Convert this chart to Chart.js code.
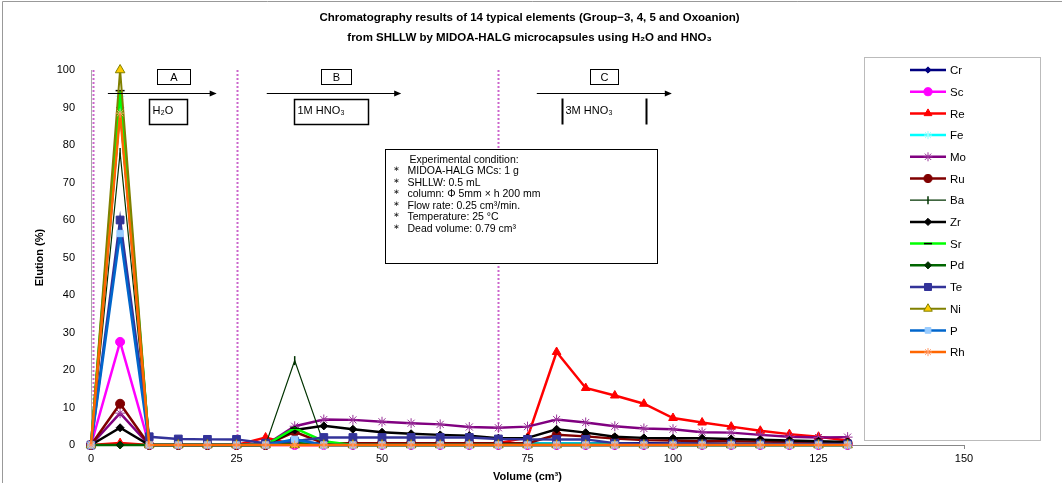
<!DOCTYPE html>
<html><head><meta charset="utf-8">
<script src="https://cdn.jsdelivr.net/npm/chart.js@4/dist/chart.umd.min.js"></script>
<style>
html,body{margin:0;padding:0;background:#fff;}
#wrap{position:relative;width:1062px;height:483px;}
canvas{display:block;}
</style></head>
<body><div id="wrap"><canvas id="c" width="1062" height="483"></canvas></div>
<script>
// ---- data ----
const volumes = [0,5,10,15,20,25,30,35,40,45,50,55,60,65,70,75,80,85,90,95,100,105,110,115,120,125,130];
const elements = ['Cr','Sc','Re','Fe','Mo','Ru','Ba','Zr','Sr','Pd','Te','Ni','P','Rh'];
const cr = [0,90,0,0,0,0,0,1,0.3,0.3,0.3,0.3,0.3,0.3,0.5,0.5,0.5,0.5,0.5,0.5,0.4,0.4,0.3,0.3,0.3,0.3,0.3];
const sc = [0,27.5,0,0,0,0,0,0,0,0,0,0,0,0,0,0,0,0,0,0,0,0,0,0,0,0,0];
const re = [0,0.5,0,0,0,0,2,0,0,0,0,0,0,0,0.5,2,24.8,15.2,13.2,11,7.2,6,4.9,3.8,2.9,2.2,1.2];
const fe = [0,93,0,0,0,0,0,1,0,0,0,0,0,0,0.3,0.4,0.4,0.4,0.3,0.2,0,0,0,0,0,0,0];
const mo = [0,8.5,0,0,0,0,0,5,6.8,6.7,6.2,5.8,5.5,4.8,4.6,4.9,6.8,6,5,4.4,4.2,3.4,3.3,2.7,2.2,2,2.1];
const ru = [0,11,0,0,0,0,0,3.5,0.5,0.5,0.5,0.5,0.5,0.5,0.5,0.5,2.7,2.3,1.7,1.3,1.2,1,1,0.9,0.8,0.6,0.5];
const ba = [0,78,0,0,0,0,0,22.5,0.3,0,0,0,0,0,0,0,0,0,0,0,0,0,0,0,0,0,0];
const zr = [0,4.6,0,0,0,0,0,4,5.1,4.2,3.4,3,2.7,2.5,1.8,1.9,4.2,3.3,2.2,1.9,1.8,1.8,1.6,1.4,1.2,1,0.8];
const sr = [0,94.5,0,0,0,0,0,4.5,1,0,0,0,0,0,0,0,0,0,0,0,0,0,0,0,0,0,0];
const pd = [0,0,0,0,0,0,0,0.5,0,0,0,0,0,0,0,0,0,0,0,0,0,0,0,0,0,0,0];
const te = [0,60,2.2,1.6,1.5,1.5,0.5,1,2,2,2,2,2,2,1.6,1.5,1.5,1.5,0.5,0.3,0.3,0.3,0.3,0.3,0.3,0.3,0.3];
const ni = [0,100,0,0,0,0,0,0,0,0,0,0,0,0,0,0,0,0,0,0,0,0,0,0,0,0,0];
const p  = [0,56.4,0,0,0,0,0,1.5,0,0,0,0,0,0,0,0,0,0,0,0,0,0,0,0,0,0,0];
const rh = [0,88.5,0,0,0,0,0,0,0,0,0,0,0,0,0,0,0,0,0,0,0,0,0,0,0,0,0];
const seriesValues = [cr,sc,re,fe,mo,ru,ba,zr,sr,pd,te,ni,p,rh];
const xTicks = [0,25,50,75,100,125,150];
const yTicks = [0,10,20,30,40,50,60,70,80,90,100];
const dividerVolumes = [0.4,25,70];

// ---- styles ----
const styles = [
 {c:'#000080', w:2.5, ps:'rectRot', r:3.5, f:'#000080', b:'#000080'},
 {c:'#FF00FF', w:2.5, ps:'circle', r:4.5, f:'#FF00FF', b:'#FF00FF'},
 {c:'#FF0000', w:2.5, ps:'triangle', r:5, f:'#FF0000', b:'#FF0000'},
 {c:'#00FFFF', w:2.5, ps:'star', r:4.5, f:'#CCFFFF', b:'#99FFFF'},
 {c:'#800080', w:2.5, ps:'star', r:5, f:'#993399', b:'#993399'},
 {c:'#800000', w:2.5, ps:'circle', r:4.5, f:'#800000', b:'#800000'},
 {c:'#003300', w:1.2, ps:'line', r:4.5, f:'#003300', b:'#003300', rot:90},
 {c:'#000000', w:2.5, ps:'rectRot', r:4, f:'#000000', b:'#000000'},
 {c:'#00FF00', w:2.5, ps:'line', r:4.5, f:'#000000', b:'#000000'},
 {c:'#006600', w:2.5, ps:'rectRot', r:4, f:'#003300', b:'#003300'},
 {c:'#333399', w:2.5, ps:'rect', r:5.5, f:'#333399', b:'#333399'},
 {c:'#808000', w:2, ps:'triangle', r:5.5, f:'#FFCC00', b:'#808000'},
 {c:'#0066CC', w:2.5, ps:'rect', r:4.5, f:'#99CCFF', b:'#99CCFF'},
 {c:'#FF6600', w:2.5, ps:'star', r:4.5, f:'#FF9966', b:'#FF9966'}
];

const N = elements.length;
const datasets = elements.map((name,i)=>{
  const s = styles[i];
  return {
    label:name,
    data: volumes.map((v,k)=>({x:v,y:seriesValues[i][k]})),
    borderColor:s.c, backgroundColor:s.f, borderWidth:s.w,
    pointStyle:s.ps, pointRadius:s.r, pointRotation:s.rot||0,
    pointBackgroundColor:s.f, pointBorderColor:s.b, pointBorderWidth: (s.ps==='line')?1.5:1,
    tension:0, clip:false, order:N-1-i
  };
});

const FONT = '"Liberation Sans", Arial, sans-serif';

const decor = {
  id:'decor',
  beforeDatasetsDraw(chart){
    const ctx = chart.ctx, xs = chart.scales.x, ys = chart.scales.y;
    ctx.save();
    ctx.strokeStyle = '#CC66CC'; ctx.lineWidth = 2; ctx.setLineDash([2,2]);
    dividerVolumes.forEach(v=>{
      const px = Math.round(xs.getPixelForValue(v))+0.5;
      ctx.beginPath(); ctx.moveTo(px, ys.getPixelForValue(100)); ctx.lineTo(px, ys.getPixelForValue(0)); ctx.stroke();
    });
    ctx.restore();
  },
  afterDraw(chart){
    const ctx = chart.ctx, xs = chart.scales.x, ys = chart.scales.y;
    const X = v=>xs.getPixelForValue(v), Y = v=>ys.getPixelForValue(v);
    ctx.save();
    // chart outer border
    ctx.strokeStyle='#999'; ctx.lineWidth=1;
    ctx.beginPath(); ctx.moveTo(2.5,483); ctx.lineTo(2.5,1.5); ctx.lineTo(1062,1.5); ctx.stroke();
    // title
    ctx.fillStyle='#000'; ctx.textAlign='center'; ctx.textBaseline='middle';
    ctx.font = 'bold 11.5px '+FONT;
    const cx = (chart.chartArea.left+chart.chartArea.right)/2;
    ctx.fillText('Chromatography results of 14 typical elements (Group\u22123, 4, 5 and Oxoanion)', cx+2, 18);
    ctx.fillText('from SHLLW by MIDOA-HALG microcapsules using H\u2082O and HNO\u2083', cx+2, 38);
    // axis titles
    ctx.font = 'bold 11px '+FONT;
    ctx.fillText('Volume (cm\u00B3)', cx, 477);
    ctx.save(); ctx.translate(40,(chart.chartArea.top+chart.chartArea.bottom)/2); ctx.rotate(-Math.PI/2);
    ctx.fillText('Elution (%)',0,0); ctx.restore();
    // boxes
    ctx.font = '11px '+FONT; ctx.lineWidth=1; ctx.strokeStyle='#000';
    const box = (x1,x2,y1,y2,txt)=>{
      const a=Math.round(X(x1))+0.5,b=Math.round(X(x2))+0.5,c=Math.round(Y(y1))+0.5,d=Math.round(Y(y2))+0.5;
      ctx.strokeRect(a,c,b-a,d-c);
      ctx.fillText(txt,(a+b)/2,(c+d)/2+1);
    };
    box(11.3,17.0,100.4,96.3,'A');
    box(39.6,44.7,100.4,96.3,'B');
    box(85.7,90.5,100.4,96.3,'C');
    ctx.textAlign='left';
    const box2 = (x1,x2,y1,y2,txt,sidesOnly)=>{
      const a=Math.round(X(x1))+0.5,b=Math.round(X(x2))+0.5,c=Math.round(Y(y1))+0.5,d=Math.round(Y(y2))+0.5;
      if(sidesOnly){ ctx.lineWidth=2; ctx.beginPath(); ctx.moveTo(a,c);ctx.lineTo(a,d);ctx.moveTo(b,c);ctx.lineTo(b,d);ctx.stroke(); ctx.lineWidth=1; }
      else { ctx.lineWidth=1.5; ctx.strokeRect(a,c,b-a,d-c); ctx.lineWidth=1; }
      ctx.fillText(txt,a+3,(c+d)/2-1);
    };
    box2(9.9,16.5,92.3,85.6,'H\u2082O');
    box2(34.9,47.6,92.3,85.6,'1M HNO\u2083');
    box2(80.9,95.4,92.6,85.6,'3M HNO\u2083',true);
    // arrows
    const arrow=(x1,x2,yv)=>{
      const a=X(x1),b=X(x2),y=Math.round(Y(yv))+0.5;
      ctx.beginPath(); ctx.moveTo(a,y); ctx.lineTo(b-5,y); ctx.stroke();
      ctx.beginPath(); ctx.moveTo(b,y); ctx.lineTo(b-7,y-3); ctx.lineTo(b-7,y+3); ctx.closePath(); ctx.fill();
    };
    arrow(2.9,21.6,93.8); arrow(30.2,53.3,93.8); arrow(76.6,99.8,93.8);
    // experimental condition box
    const ex1=X(50.6), ex2=X(97.4), ey1=Y(79), ey2=Y(48.5);
    ctx.fillStyle='#fff'; ctx.fillRect(ex1,ey1,ex2-ex1,ey2-ey1);
    ctx.strokeStyle='#000'; ctx.lineWidth=1; ctx.strokeRect(Math.round(ex1)+0.5,Math.round(ey1)+0.5,Math.round(ex2-ex1),Math.round(ey2-ey1));
    ctx.fillStyle='#000'; ctx.font='10.5px '+FONT;
    ctx.fillText('Experimental condition:', ex1+24, ey1+11);
    const lines=['MIDOA-HALG MCs: 1 g','SHLLW: 0.5 mL','column: \u03A6 5mm \u00D7 h 200 mm','Flow rate: 0.25 cm\u00B3/min.','Temperature: 25 \u00B0C','Dead volume: 0.79 cm\u00B3'];
    lines.forEach((t,i)=>{
      const yy=ey1+22.5+i*11.5;
      ctx.fillText('\uFF0A', ex1+6, yy);
      ctx.fillText(t, ex1+22, yy);
    });
    // legend
    const lx1=864, lx2=1040, ly1=57, ly2=440;
    ctx.fillStyle='#fff'; ctx.fillRect(lx1,ly1,lx2-lx1,ly2-ly1);
    ctx.strokeStyle='#bbb'; ctx.lineWidth=1; ctx.strokeRect(lx1+0.5,ly1+0.5,lx2-lx1,ly2-ly1);
    ctx.font='11.5px '+FONT;
    chart.data.datasets.forEach((ds,i)=>{
      const y = 70 + i*21.7;
      ctx.strokeStyle=ds.borderColor; ctx.lineWidth=ds.borderWidth;
      ctx.beginPath(); ctx.moveTo(910,y); ctx.lineTo(946,y); ctx.stroke();
      ctx.fillStyle=ds.pointBackgroundColor; ctx.strokeStyle=ds.pointBorderColor; ctx.lineWidth=ds.pointBorderWidth;
      Chart.helpers.drawPoint(ctx,{pointStyle:ds.pointStyle,radius:ds.pointRadius*0.9,rotation:ds.pointRotation,borderWidth:ds.pointBorderWidth},928,y);
      ctx.fillStyle='#000'; ctx.textAlign='left';
      ctx.fillText(ds.label, 950, y+1);
    });
    ctx.restore();
  }
};

new Chart(document.getElementById('c'),{
  type:'line',
  data:{datasets},
  options:{
    responsive:false, animation:false, maintainAspectRatio:false,
    layout:{padding:{top:70,right:98,left:0,bottom:0}},
    plugins:{legend:{display:false}, tooltip:{enabled:false}, title:{display:false}},
    scales:{
      x:{type:'linear', min:0, max:150,
         afterBuildTicks:(s)=>{s.ticks = xTicks.map(v=>({value:v}));},
         afterFit:(s)=>{s.height=38;},
         ticks:{font:{family:FONT,size:11}, color:'#000', padding:3, maxRotation:0, autoSkip:false},
         grid:{drawOnChartArea:false, drawTicks:true, tickLength:4, color:'#888'},
         border:{display:true,color:'#888'}},
      y:{type:'linear', min:0, max:100,
         afterBuildTicks:(s)=>{s.ticks = yTicks.map(v=>({value:v}));},
         afterFit:(s)=>{s.width=91;},
         ticks:{font:{family:FONT,size:11}, color:'#000', padding:8},
         grid:{display:false},
         border:{display:true,color:'#aaa'}}
    }
  },
  plugins:[decor]
});
</script></body></html>
